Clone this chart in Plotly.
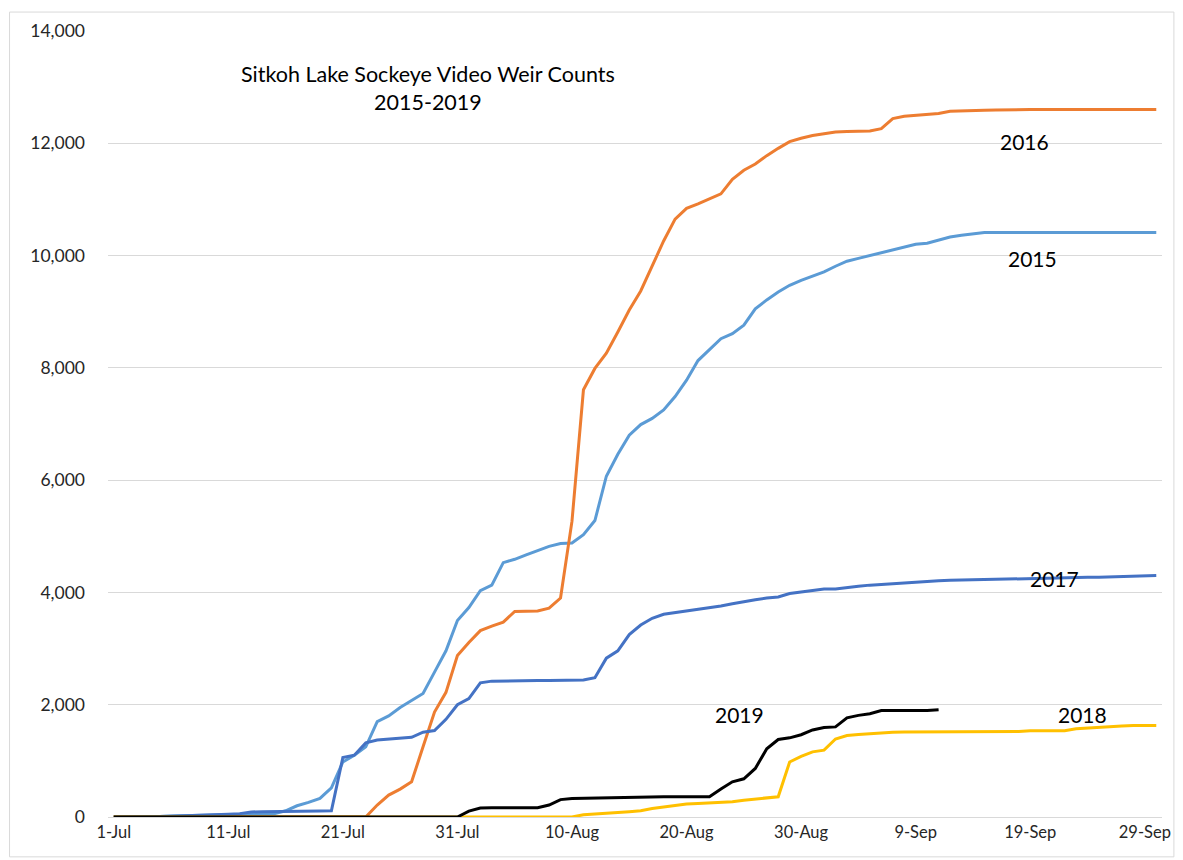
import pandas as pd
import plotly.graph_objects as go

# Daily dates 1-Jul .. 30-Sep
dates = pd.date_range("2019-07-01", "2019-09-30", freq="D")

y2015 = [0, 0, 0, 5, 10, 20, 25, 30, 30, 30, 35, 40, 50, 55, 60, 110, 200, 260, 330, 520,
         980, 1100, 1250, 1700, 1800, 1950, 2080, 2200, 2580, 2960, 3500, 3730, 4030, 4130, 4530, 4590,
         4670, 4740, 4820, 4870, 4880, 5030, 5280, 6070, 6460, 6800, 6990, 7100, 7250, 7490, 7780,
         8130, 8320, 8520, 8610, 8760, 9050, 9210, 9350, 9470, 9560, 9640, 9710, 9810, 9900, 9950,
         10000, 10040, 10100, 10150, 10200, 10220, 10280, 10330, 10360, 10390, 10410, 10410, 10410,
         10410, 10410, 10410, 10410, 10410, 10410, 10410, 10410, 10410, 10410, 10410, 10410, 10410]

y2016 = [0] * 23 + [213, 390, 497, 627, 1250, 1870, 2220, 2875, 3110, 3320, 3400, 3470, 3660, 3660,
         3670, 3720, 3900, 5270, 7610, 7990, 8260, 8640, 9030, 9370, 9830, 10260, 10650, 10840,
         10920, 11010, 11100, 11360, 11520, 11630, 11780, 11910, 12030, 12090, 12140, 12170, 12200,
         12210, 12220, 12220, 12260, 12440, 12480, 12500, 12520, 12530, 12570, 12580, 12590, 12590,
         12595, 12600, 12600, 12600, 12600, 12600, 12600, 12600, 12600, 12600, 12600, 12600, 12600,
         12600, 12600, 12600]

y2017 = [0, 0, 0, 5, 10, 15, 20, 25, 30, 40, 50, 60, 90, 95, 95, 95, 100, 100, 105, 110,
         1060, 1100, 1320, 1370, 1390, 1400, 1420, 1510, 1540, 1740, 2000, 2110, 2390, 2420, 2425,
         2430, 2430, 2430, 2430, 2435, 2435, 2440, 2480, 2830, 2960, 3250, 3420, 3540, 3610, 3640,
         3660, 3700, 3730, 3760, 3800, 3840, 3870, 3900, 3920, 3980, 4010, 4030, 4060, 4060, 4090,
         4110, 4130, 4145, 4160, 4175, 4190, 4200, 4210, 4215, 4220, 4230, 4235, 4240, 4245, 4250,
         4250, 4255, 4260, 4260, 4265, 4270, 4270, 4275, 4280, 4280, 4285, 4300]

y2018 = [0] * 41 + [40, 50, 60, 80, 95, 110, 150, 180, 213, 230, 242, 255, 265, 272, 300, 320, 340,
         360, 980, 1080, 1160, 1190, 1390, 1450, 1470, 1485, 1500, 1510, 1515, 1515, 1515, 1515,
         1515, 1525, 1525, 1525, 1525, 1525, 1525, 1535, 1535, 1535, 1535, 1570, 1585, 1600, 1610,
         1620, 1630, 1630, 1630]

y2019 = [0] * 31 + [105, 160, 165, 165, 165, 165, 165, 213, 310, 330, 335, 340, 345, 350, 350, 355,
         360, 360, 360, 360, 360, 360, 500, 627, 680, 865, 1215, 1380, 1410, 1465, 1550, 1595, 1605,
         1765, 1810, 1840, 1895, 1895, 1895, 1895, 1895, 1910]

series = [
    ("2015", y2015, "#5B9BD5"),
    ("2016", y2016, "#ED7D31"),
    ("2017", y2017, "#4472C4"),
    ("2018", y2018, "#FFC000"),
    ("2019", y2019, "#000000"),
]

tick_dates = ["2019-07-01", "2019-07-11", "2019-07-21", "2019-07-31", "2019-08-10",
              "2019-08-20", "2019-08-30", "2019-09-09", "2019-09-19", "2019-09-29"]
tick_text = ["1-Jul", "11-Jul", "21-Jul", "31-Jul", "10-Aug",
             "20-Aug", "30-Aug", "9-Sep", "19-Sep", "29-Sep"]
y_ticks = [0, 2000, 4000, 6000, 8000, 10000, 12000, 14000]

fig = go.Figure()
for name, vals, color in series:
    fig.add_trace(go.Scatter(x=dates[:len(vals)], y=vals, mode="lines", name=name,
                             line=dict(color=color, width=3)))

FONT = "Lato, 'Open Sans', sans-serif"
labels = [
    ("2016", "2019-09-18 12:00", 12030),
    ("2015", "2019-09-19 05:00", 9955),
    ("2017", "2019-09-21 02:00", 4240),
    ("2019", "2019-08-24 14:00", 1830),
    ("2018", "2019-09-23 14:00", 1830),
]
for txt, xd, yv in labels:
    fig.add_annotation(x=xd, y=yv, text=txt, showarrow=False,
                       font=dict(family=FONT, size=21, color="#000000"),
                       xanchor="center", yanchor="middle")

fig.add_annotation(x="2019-07-28 10:00", y=12990,
                   text="Sitkoh Lake Sockeye Video Weir Counts<br>2015-2019",
                   showarrow=False, align="center",
                   font=dict(family=FONT, size=21.5, color="#000000"),
                   xanchor="center", yanchor="middle")

# chart-area border
fig.add_shape(type="rect", xref="paper", yref="paper",
              x0=-0.0934, x1=1.0113, y0=-0.0507, y1=1.0241,
              line=dict(color="#D9D9D9", width=1), fillcolor="rgba(0,0,0,0)", layer="below")

fig.update_layout(
    width=1175, height=852,
    margin=dict(l=100, r=15, t=20, b=43),
    paper_bgcolor="white", plot_bgcolor="white",
    showlegend=False,
    font=dict(family=FONT, color="#262626"),
    xaxis=dict(
        range=["2019-06-30 12:00", "2019-09-30 12:00"],
        tickmode="array", tickvals=tick_dates, ticktext=tick_text,
        showgrid=False, showline=True, linecolor="#D9D9D9", linewidth=1,
        ticks="", tickfont=dict(size=16.5, family=FONT, color="#262626"),
        zeroline=False,
    ),
    yaxis=dict(
        range=[0, 14000], tickmode="array", tickvals=y_ticks, tickformat=",",
        showgrid=True, gridcolor="#D9D9D9", gridwidth=1,
        showline=False, zeroline=False, ticks="",
        ticklabelstandoff=22,
        tickfont=dict(size=17.5, family=FONT, color="#262626"),
    ),
)

fig.write_html("out.html")
